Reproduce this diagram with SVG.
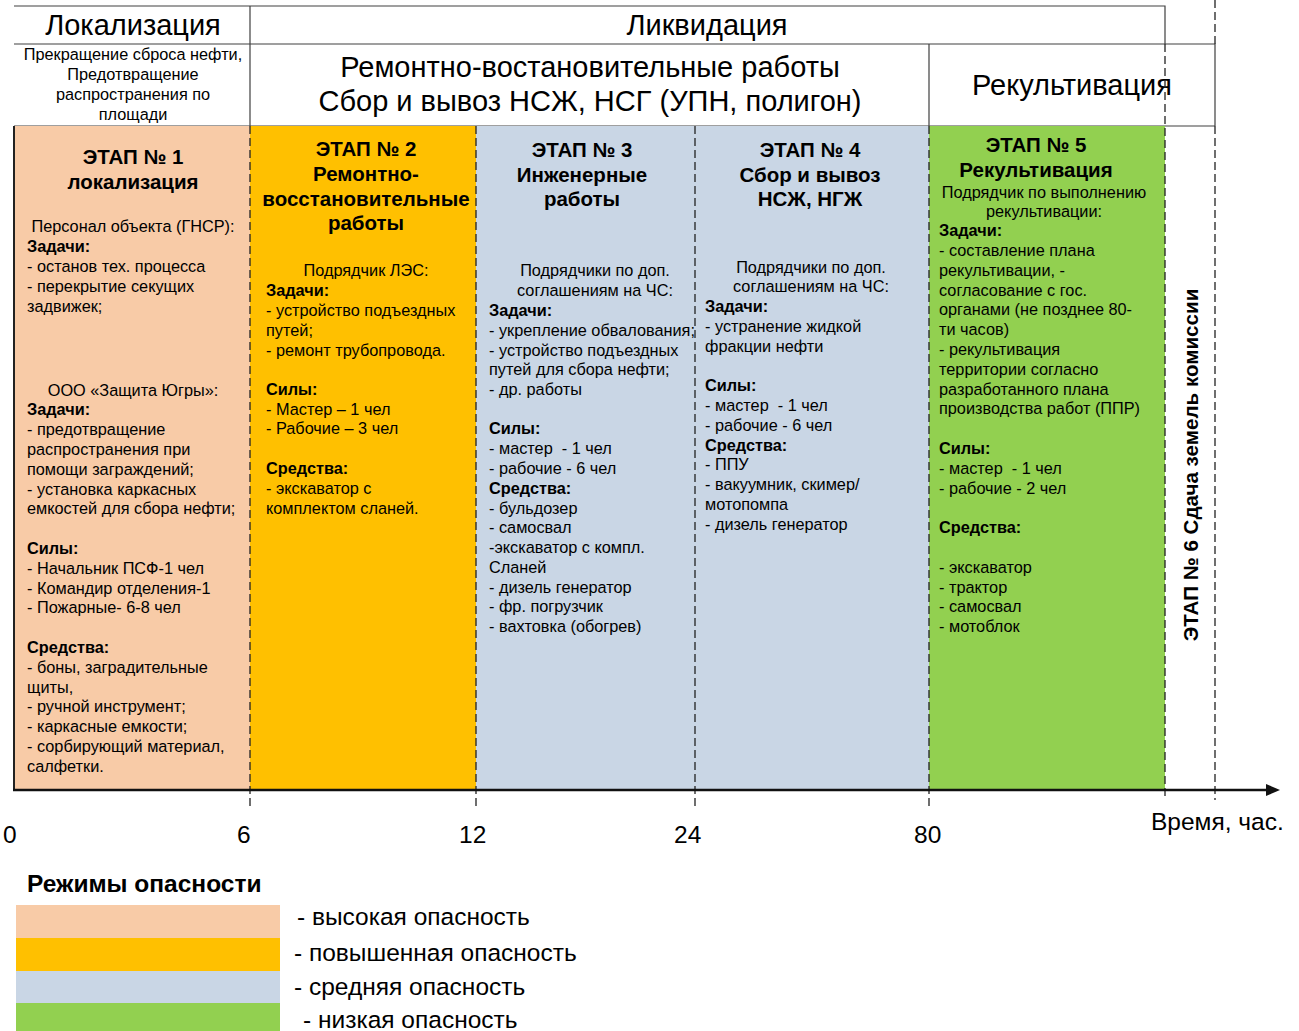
<svg xmlns="http://www.w3.org/2000/svg" width="1299" height="1031" viewBox="0 0 1299 1031">
<style>
  text { font-family: "Liberation Sans", Arial, sans-serif; fill: #000; }
  .hd { font-size: 29px; }
  .sm { font-size: 16.3px; }
  .tt { font-size: 20.5px; font-weight: bold; text-anchor: middle; }
  .b { font-weight: bold; }
  .c { text-anchor: middle; }
  .grid { stroke: #404040; stroke-width: 1.2; fill: none; }
  .dash { stroke: #222; stroke-width: 1.3; stroke-dasharray: 8 4; fill: none; }
  .lg { font-size: 24.5px; }
</style>
<defs>
  <marker id="arrow" markerWidth="14" markerHeight="12" refX="0" refY="6" orient="auto" markerUnits="userSpaceOnUse">
    <path d="M0,0 L14,6 L0,12 z" fill="#111"/>
  </marker>
</defs>
<rect width="1299" height="1031" fill="#fff"/>

<!-- header -->
<g id="header">
  <path class="grid" d="M14,6 H1165 V44 M14,44 H1215 V126 M14,126 H1215 M250,6 V126 M929,44 V126"/>
  <text class="hd c" x="133" y="35">Локализация</text>
  <text class="hd c" x="707" y="35">Ликвидация</text>
  <text class="sm c" x="133" y="60">Прекращение сброса нефти,</text>
  <text class="sm c" x="133" y="80">Предотвращение</text>
  <text class="sm c" x="133" y="100">распространения по</text>
  <text class="sm c" x="133" y="120">площади</text>
  <text class="hd c" x="590" y="77">Ремонтно-востановительные работы</text>
  <text class="hd c" x="590" y="111">Сбор и вывоз НСЖ, НСГ (УПН, полигон)</text>
  <text class="hd c" x="1072" y="95">Рекультивация</text>
</g>

<!-- stage 1 -->
<g id="stage1">
  <rect x="14" y="126" width="236" height="664" fill="#F8CBA7"/>
  <text class="tt" x="133" y="164">ЭТАП № 1</text>
  <text class="tt" x="133" y="189">локализация</text>
  <text class="sm c" x="133" y="232">Персонал объекта (ГНСР):</text>
  <text class="sm b" x="27" y="252">Задачи:</text>
  <text class="sm" x="27" y="272">- останов тех. процесса</text>
  <text class="sm" x="27" y="292">- перекрытие секущих</text>
  <text class="sm" x="27" y="312">задвижек;</text>
  <text class="sm c" x="133" y="396">ООО «Защита Югры»:</text>
  <text class="sm b" x="27" y="415">Задачи:</text>
  <text class="sm" x="27" y="435">- предотвращение</text>
  <text class="sm" x="27" y="455">распространения при</text>
  <text class="sm" x="27" y="475">помощи заграждений;</text>
  <text class="sm" x="27" y="495">- установка каркасных</text>
  <text class="sm" x="27" y="514">емкостей для сбора нефти;</text>
  <text class="sm b" x="27" y="554">Силы:</text>
  <text class="sm" x="27" y="574">- Начальник ПСФ-1 чел</text>
  <text class="sm" x="27" y="594">- Командир отделения-1</text>
  <text class="sm" x="27" y="613">- Пожарные- 6-8 чел</text>
  <text class="sm b" x="27" y="653">Средства:</text>
  <text class="sm" x="27" y="673">- боны, заградительные</text>
  <text class="sm" x="27" y="693">щиты,</text>
  <text class="sm" x="27" y="712">- ручной инструмент;</text>
  <text class="sm" x="27" y="732">- каркасные емкости;</text>
  <text class="sm" x="27" y="752">- сорбирующий материал,</text>
  <text class="sm" x="27" y="772">салфетки.</text>
</g>

<!-- stage 2 -->
<g id="stage2">
  <rect x="250" y="126" width="226" height="664" fill="#FFC000"/>
  <text class="tt" x="366" y="156">ЭТАП № 2</text>
  <text class="tt" x="366" y="181">Ремонтно-</text>
  <text class="tt" x="366" y="206">восстановительные</text>
  <text class="tt" x="366" y="230">работы</text>
  <text class="sm c" x="366" y="276">Подрядчик ЛЭС:</text>
  <text class="sm b" x="266" y="296">Задачи:</text>
  <text class="sm" x="266" y="316">- устройство подъездных</text>
  <text class="sm" x="266" y="336">путей;</text>
  <text class="sm" x="266" y="356">- ремонт трубопровода.</text>
  <text class="sm b" x="266" y="395">Силы:</text>
  <text class="sm" x="266" y="415">- Мастер – 1 чел</text>
  <text class="sm" x="266" y="434">- Рабочие – 3 чел</text>
  <text class="sm b" x="266" y="474">Средства:</text>
  <text class="sm" x="266" y="494">- экскаватор с</text>
  <text class="sm" x="266" y="514">комплектом сланей.</text>
</g>

<!-- stage 3 -->
<g id="stage3">
  <rect x="476" y="126" width="219" height="664" fill="#C9D6E5"/>
  <text class="tt" x="582" y="157">ЭТАП № 3</text>
  <text class="tt" x="582" y="182">Инженерные</text>
  <text class="tt" x="582" y="206">работы</text>
  <text class="sm c" x="595" y="276">Подрядчики по доп.</text>
  <text class="sm c" x="595" y="296">соглашениям на ЧС:</text>
  <text class="sm b" x="489" y="316">Задачи:</text>
  <text class="sm" x="489" y="336">- укрепление обвалования;</text>
  <text class="sm" x="489" y="356">- устройство подъездных</text>
  <text class="sm" x="489" y="375">путей для сбора нефти;</text>
  <text class="sm" x="489" y="395">- др. работы</text>
  <text class="sm b" x="489" y="434">Силы:</text>
  <text class="sm" x="489" y="454" xml:space="preserve">- мастер  - 1 чел</text>
  <text class="sm" x="489" y="474">- рабочие - 6 чел</text>
  <text class="sm b" x="489" y="494">Средства:</text>
  <text class="sm" x="489" y="514">- бульдозер</text>
  <text class="sm" x="489" y="533">- самосвал</text>
  <text class="sm" x="489" y="553">-экскаватор с компл.</text>
  <text class="sm" x="489" y="573">Сланей</text>
  <text class="sm" x="489" y="593">- дизель генератор</text>
  <text class="sm" x="489" y="612">- фр. погрузчик</text>
  <text class="sm" x="489" y="632">- вахтовка (обогрев)</text>
</g>

<!-- stage 4 -->
<g id="stage4">
  <rect x="695" y="126" width="234" height="664" fill="#C9D6E5"/>
  <text class="tt" x="810" y="157">ЭТАП № 4</text>
  <text class="tt" x="810" y="182">Сбор и вывоз</text>
  <text class="tt" x="810" y="206">НСЖ, НГЖ</text>
  <text class="sm c" x="811" y="273">Подрядчики по доп.</text>
  <text class="sm c" x="811" y="292">соглашениям на ЧС:</text>
  <text class="sm b" x="705" y="312">Задачи:</text>
  <text class="sm" x="705" y="332">- устранение жидкой</text>
  <text class="sm" x="705" y="352">фракции нефти</text>
  <text class="sm b" x="705" y="391">Силы:</text>
  <text class="sm" x="705" y="411" xml:space="preserve">- мастер  - 1 чел</text>
  <text class="sm" x="705" y="431">- рабочие - 6 чел</text>
  <text class="sm b" x="705" y="451">Средства:</text>
  <text class="sm" x="705" y="470">- ППУ</text>
  <text class="sm" x="705" y="490">- вакуумник, скимер/</text>
  <text class="sm" x="705" y="510">мотопомпа</text>
  <text class="sm" x="705" y="530">- дизель генератор</text>
</g>

<!-- stage 5 -->
<g id="stage5">
  <rect x="929" y="126" width="236" height="664" fill="#92D050"/>
  <text class="tt" x="1036" y="152">ЭТАП № 5</text>
  <text class="tt" x="1036" y="177">Рекультивация</text>
  <text class="sm c" x="1044" y="198">Подрядчик по выполнению</text>
  <text class="sm c" x="1044" y="217">рекультивации:</text>
  <text class="sm b" x="939" y="236">Задачи:</text>
  <text class="sm" x="939" y="256">- составление плана</text>
  <text class="sm" x="939" y="276">рекультивации, -</text>
  <text class="sm" x="939" y="296">согласование с гос.</text>
  <text class="sm" x="939" y="315">органами (не позднее 80-</text>
  <text class="sm" x="939" y="335">ти часов)</text>
  <text class="sm" x="939" y="355">- рекультивация</text>
  <text class="sm" x="939" y="375">территории согласно</text>
  <text class="sm" x="939" y="395">разработанного плана</text>
  <text class="sm" x="939" y="414">производства работ (ППР)</text>
  <text class="sm b" x="939" y="454">Силы:</text>
  <text class="sm" x="939" y="474" xml:space="preserve">- мастер  - 1 чел</text>
  <text class="sm" x="939" y="494">- рабочие - 2 чел</text>
  <text class="sm b" x="939" y="533">Средства:</text>
  <text class="sm" x="939" y="573">- экскаватор</text>
  <text class="sm" x="939" y="593">- трактор</text>
  <text class="sm" x="939" y="612">- самосвал</text>
  <text class="sm" x="939" y="632">- мотоблок</text>
</g>

<!-- stage 6 -->
<g id="stage6">
  <text class="b" font-size="20.6" text-anchor="middle" transform="translate(1198,465) rotate(-90)">ЭТАП № 6 Сдача земель комиссии</text>
</g>

<!-- connectors: boundaries, time axis -->
<g id="connectors">
  <path class="dash" d="M250,126 V808 M476,126 V808 M695,126 V808 M929,126 V808 M1165,44 V800 M1215,0 V44 M1215,126 V800"/>
  <line x1="14" y1="126" x2="14" y2="791" stroke="#222" stroke-width="2"/>
  <line x1="13" y1="790" x2="1266" y2="790" stroke="#111" stroke-width="2.5" marker-end="url(#arrow)"/>
</g>

<g id="axis-labels">
  <text class="lg" x="3" y="843">0</text>
  <text class="lg" x="237" y="843">6</text>
  <text class="lg" x="459" y="843">12</text>
  <text class="lg" x="674" y="843">24</text>
  <text class="lg" x="914" y="843">80</text>
  <text class="lg" x="1151" y="830">Время, час.</text>
</g>

<!-- legend -->
<g id="legend">
  <text class="b" font-size="24.5" x="27" y="892">Режимы опасности</text>
  <rect x="16" y="905" width="264" height="33" fill="#F8CBA7"/>
  <rect x="16" y="938" width="264" height="33" fill="#FFC000"/>
  <rect x="16" y="971" width="264" height="32" fill="#C9D6E5"/>
  <rect x="16" y="1003" width="264" height="28" fill="#92D050"/>
  <text class="lg" x="297" y="925">- высокая опасность</text>
  <text class="lg" x="294" y="961">- повышенная опасность</text>
  <text class="lg" x="294" y="995">- средняя опасность</text>
  <text class="lg" x="303" y="1028">- низкая опасность</text>
</g>
</svg>
